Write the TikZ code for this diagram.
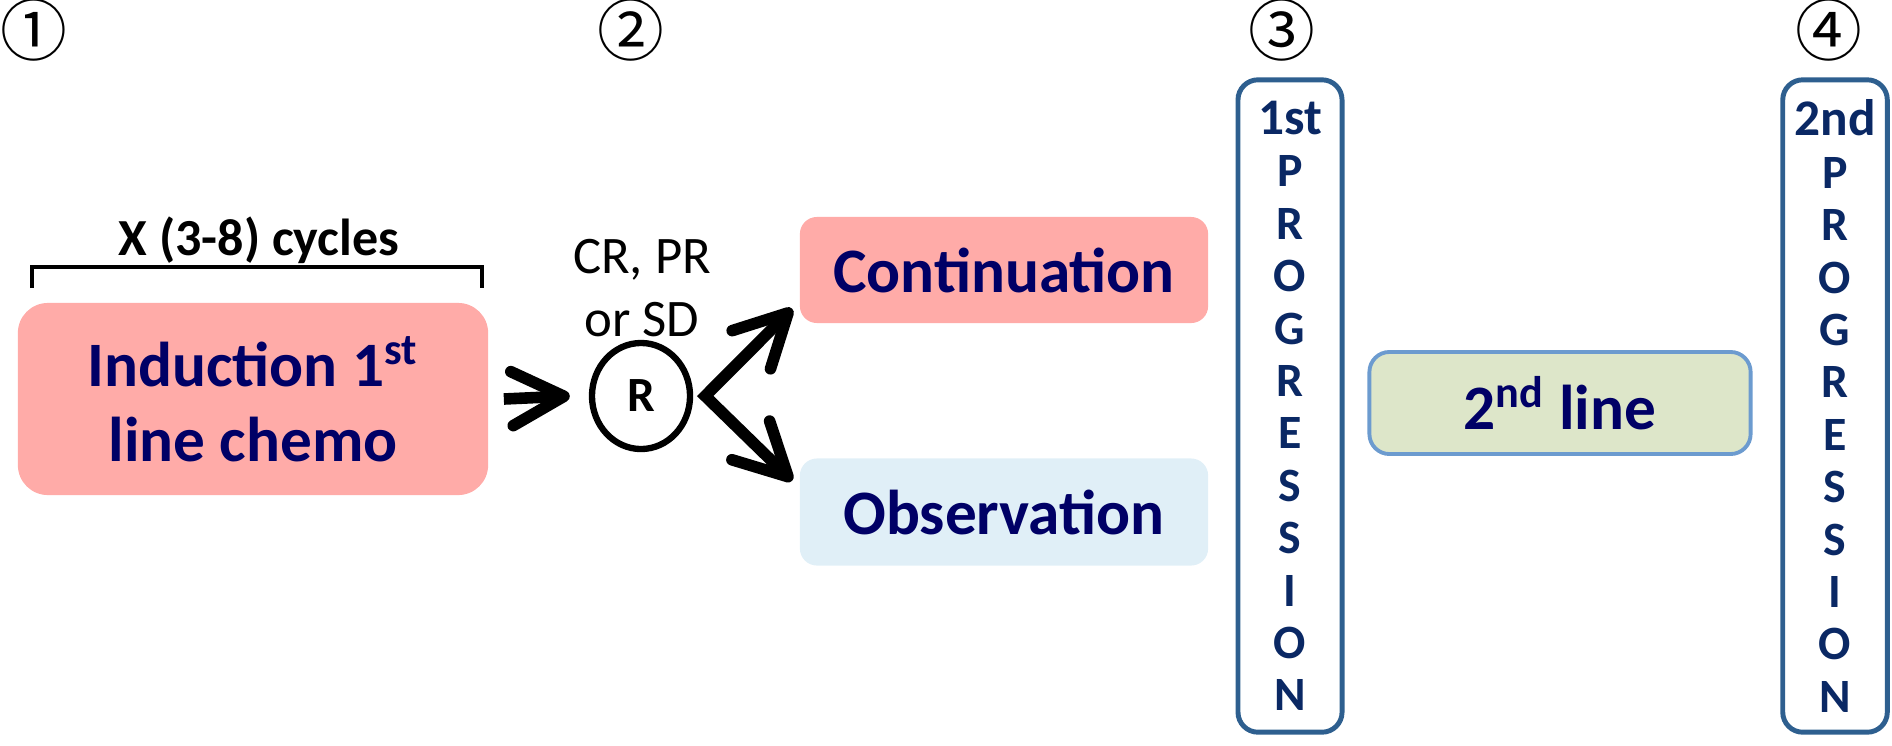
\documentclass[tikz,border=0pt]{standalone}
\usepackage{fontspec}
\setmainfont{Carlito}
\newfontfamily\circfont{Noto Sans CJK JP}
\usetikzlibrary{shapes.geometric, arrows.meta, positioning, calc}

\definecolor{boxpink}{HTML}{FFABA8}
\definecolor{boxblue}{HTML}{E0EFF7}
\definecolor{boxgreen}{HTML}{DDE6C9}
\definecolor{linegreen}{HTML}{6C9BCF}
\definecolor{progblue}{HTML}{2E5F8F}
\definecolor{txtnavy}{HTML}{000066}
\definecolor{progtext}{HTML}{0A2864}

\begin{document}
\begin{tikzpicture}[
    x=0.01cm, y=-0.01cm,
    barb/.tip={Straight Barb[length=5.2mm, width=5.4mm, round]},
    stepnum/.style={font=\circfont\fontsize{19}{19}\selectfont},
    phase/.style={rectangle, align=center, text=txtnavy, font=\bfseries\fontsize{18}{21.3}\selectfont},
    progbox/.style={rectangle, draw=progblue, line width=1.4pt, rounded corners=0.2cm, minimum width=1.04cm, minimum height=6.52cm, align=center, text=progtext, font=\bfseries\fontsize{13.6}{14.9}\selectfont},
    bigarrow/.style={line width=3.3pt, -barb}
]
\useasboundingbox (0,0) rectangle (1892,745);

% Step numbers
\node[stepnum] (n1) at (34,30) {①};
\node[stepnum] (n2) at (631,30) {②};
\node[stepnum] (n3) at (1282,30) {③};
\node[stepnum] (n4) at (1829,30) {④};

% Induction phase
\node[phase, fill=boxpink, rounded corners=0.3cm, minimum width=4.70cm, minimum height=1.92cm] (ind) at (253,399) {Induction 1\textsuperscript{st}\\line chemo};
\node[anchor=base, font=\bfseries\fontsize{14.8}{14.8}\selectfont] (cyc) at (259,255) {X (3-8) cycles};
\draw[line width=1.4pt] (32,288) -- (32,267) -- (482,267) -- (482,288);

% Randomisation
\node[ellipse, draw, line width=1.8pt, minimum width=0.98cm, minimum height=1.06cm, font=\bfseries\fontsize{14}{14}\selectfont] (r) at (641,396) {R};
\node[align=center, font=\fontsize{15}{17.9}\selectfont] (resp) at (642,288) {CR, PR\\or SD};

% Maintenance arms
\node[phase, fill=boxpink, rounded corners=0.17cm, minimum width=4.08cm, minimum height=1.06cm] (cont) at (1004,270) {Continuation};
\node[phase, fill=boxblue, rounded corners=0.17cm, minimum width=4.08cm, minimum height=1.07cm] (obs) at (1004,512) {Observation};

% Progressions and second line
\node[progbox] (prog1) at (1290,406) {{\fontsize{14.6}{14.9}\selectfont 1st}\\P\\R\\O\\G\\R\\E\\S\\S\\I\\O\\N};
\node[phase, fill=boxgreen, draw=linegreen, line width=1.1pt, rounded corners=0.2cm, minimum width=3.81cm, minimum height=1.02cm] (second) at (1560,403) {2\textsuperscript{nd} line};
\node[progbox] (prog2) at (1835,406) {{\fontsize{14.6}{14.9}\selectfont 2nd}\\P\\R\\O\\G\\R\\E\\S\\S\\I\\O\\N};

% Arrows
\draw[bigarrow] ([shift={(15,0)}]ind.east) -- ([shift={(-19,0)}]r.west);
\draw[bigarrow, barb-barb] ([shift={(-7,-15)}]cont.south west) -- ([shift={(12,0)}]r.east) -- ([shift={(-7,23)}]obs.north west);
\end{tikzpicture}
\end{document}
